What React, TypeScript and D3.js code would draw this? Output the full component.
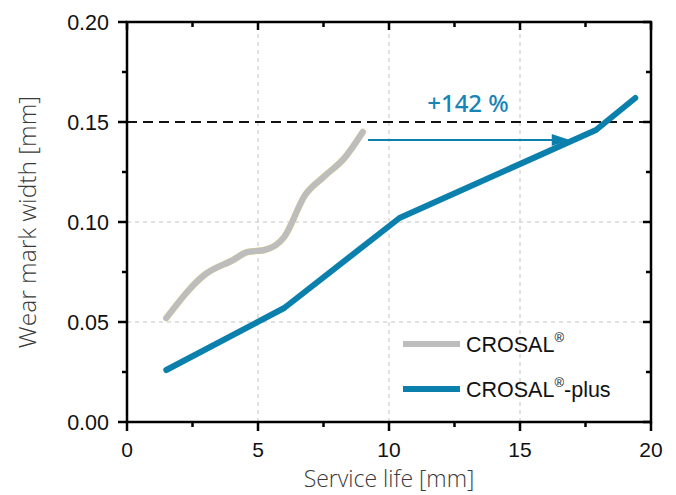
import * as d3 from 'd3';

type Pt = { x: number; y: number };

const crosalX = [1.5, 3.0, 4.05, 4.6, 5.25, 6.0, 6.8, 7.5, 8.3, 9.0];
const crosalY = [0.052, 0.074, 0.081, 0.085, 0.086, 0.0925, 0.1135, 0.1225, 0.132, 0.145];
const plusX = [1.5, 6.0, 10.4, 17.9, 19.4];
const plusY = [0.026, 0.057, 0.102, 0.146, 0.162];
const xTicks = [0, 5, 10, 15, 20];
const xMinor = [2.5, 7.5, 12.5, 17.5];
const yTicks = [0, 0.05, 0.1, 0.15, 0.2];
const yMinor = [0.025, 0.075, 0.125, 0.175];
const limitY = 0.15;
const arrowFrom = 9.2;
const arrowTo = 16.9;
const arrowY = 0.141;

const W = 676;
const H = 495;
const m = { left: 127, right: 25, top: 22, bottom: 73 };

const App = () => {
  const x = d3.scaleLinear().domain([0, 20]).range([m.left, W - m.right]);
  const y = d3.scaleLinear().domain([0, 0.2]).range([H - m.bottom, m.top]);

  const line = d3
    .line<Pt>()
    .x((d) => x(d.x))
    .y((d) => y(d.y))
    .curve(d3.curveMonotoneX);
  const lineStraight = d3
    .line<Pt>()
    .x((d) => x(d.x))
    .y((d) => y(d.y));

  const crosal = crosalX.map((v, i) => ({ x: v, y: crosalY[i] }));
  const plus = plusX.map((v, i) => ({ x: v, y: plusY[i] }));

  const [x0, x1] = x.range();
  const [y0, y1] = y.range();
  const blue = '#0b80ad';
  const tickFont = '"Liberation Sans", Arial, sans-serif';
  const titleFont = '"Open Sans", sans-serif';

  return (
    <svg width={W} height={H} style={{ position: 'absolute', left: 0, top: 0 }}>
      <rect width={W} height={H} fill="#fff" />
      {/* grid */}
      {[5, 10, 15].map((t) => (
        <line key={'gx' + t} x1={x(t)} x2={x(t)} y1={y0} y2={y1} stroke="#c4c4c4" strokeDasharray="4,4" />
      ))}
      {[0.05, 0.1].map((t) => (
        <line key={'gy' + t} x1={x0} x2={x1} y1={y(t)} y2={y(t)} stroke="#c4c4c4" strokeDasharray="4,4" />
      ))}
      {/* limit line */}
      <line x1={x0} x2={x1} y1={y(limitY)} y2={y(limitY)} stroke="#111" strokeWidth={2.2} strokeDasharray="10,6" />

      {/* series */}
      <path d={line(crosal) || ''} fill="none" stroke="#ecdc8a" strokeWidth={6.6} strokeLinecap="round" strokeLinejoin="round" />
      <path d={line(crosal) || ''} fill="none" stroke="#bdbdbd" strokeWidth={6} strokeLinecap="round" strokeLinejoin="round" />
      <path d={lineStraight(plus) || ''} fill="none" stroke={blue} strokeWidth={6} strokeLinecap="round" strokeLinejoin="round" />

      {/* arrow */}
      <line x1={x(arrowFrom)} x2={x(arrowTo) - 10} y1={y(arrowY)} y2={y(arrowY)} stroke={blue} strokeWidth={2} />
      <path
        d={`M${x(arrowTo) - 18},${y(arrowY) - 6} L${x(arrowTo)},${y(arrowY)} L${x(arrowTo) - 18},${y(arrowY) + 6} Z`}
        fill={blue}
      />
      <text x={468} y={112} textAnchor="middle" fill="#1784b5" fontFamily='"Noto Sans", sans-serif' fontWeight={500} fontSize={24}>
        +142 %
      </text>

      {/* frame */}
      <rect x={x0} y={y1} width={x1 - x0} height={y0 - y1} fill="none" stroke="#000" strokeWidth={2.5} />

      {/* bottom ticks */}
      {xTicks.map((t) => (
        <g key={'xt' + t}>
          <line x1={x(t)} x2={x(t)} y1={y0} y2={y0 + 9} stroke="#000" strokeWidth={2.5} />
          <line x1={x(t)} x2={x(t)} y1={y1} y2={y1 + 8} stroke="#000" strokeWidth={2.5} />
          <text x={x(t)} y={457} textAnchor="middle" fontFamily={tickFont} fontSize={21} fill="#111">
            {t}
          </text>
        </g>
      ))}
      {xMinor.map((t) => (
        <g key={'xm' + t}>
          <line x1={x(t)} x2={x(t)} y1={y0} y2={y0 + 5} stroke="#000" strokeWidth={2.5} />
          <line x1={x(t)} x2={x(t)} y1={y1} y2={y1 + 5} stroke="#000" strokeWidth={2.5} />
        </g>
      ))}
      {/* left ticks */}
      {yTicks.map((t) => (
        <g key={'yt' + t}>
          <line x1={x0 - 9} x2={x0} y1={y(t)} y2={y(t)} stroke="#000" strokeWidth={2.5} />
          <line x1={x1 - 8} x2={x1} y1={y(t)} y2={y(t)} stroke="#000" strokeWidth={2.5} />
          <text x={109} y={y(t) + 8} textAnchor="end" fontFamily={tickFont} fontSize={21.5} fill="#111">
            {d3.format('.2f')(t)}
          </text>
        </g>
      ))}
      {yMinor.map((t) => (
        <g key={'ym' + t}>
          <line x1={x0 - 5} x2={x0} y1={y(t)} y2={y(t)} stroke="#000" strokeWidth={2.5} />
          <line x1={x1 - 5} x2={x1} y1={y(t)} y2={y(t)} stroke="#000" strokeWidth={2.5} />
        </g>
      ))}

      {/* axis titles */}
      <text x={389} y={487} textAnchor="middle" fontFamily={titleFont} fontWeight={300} fontSize={23} fill="#3a3a3a">
        Service life [mm]
      </text>
      <text
        transform={`translate(36,${(y0 + y1) / 2}) rotate(-90)`}
        textAnchor="middle"
        fontFamily={titleFont}
        fontWeight={300}
        fontSize={24.5}
        fill="#3a3a3a"
      >
        Wear mark width [mm]
      </text>

      {/* legend */}
      <line x1={403} x2={460} y1={344} y2={344} stroke="#bdbdbd" strokeWidth={6} />
      <text x={466} y={352} fontFamily={tickFont} fontSize={21.5} fill="#111">
        CROSAL<tspan dy={-10} fontSize={13}>®</tspan>
      </text>
      <line x1={403} x2={460} y1={389} y2={389} stroke={blue} strokeWidth={6} />
      <text x={466} y={397} fontFamily={tickFont} fontSize={21.5} fill="#111">
        CROSAL<tspan dy={-10} fontSize={13}>®</tspan>
        <tspan dy={10}>-plus</tspan>
      </text>
    </svg>
  );
};

export default App;
